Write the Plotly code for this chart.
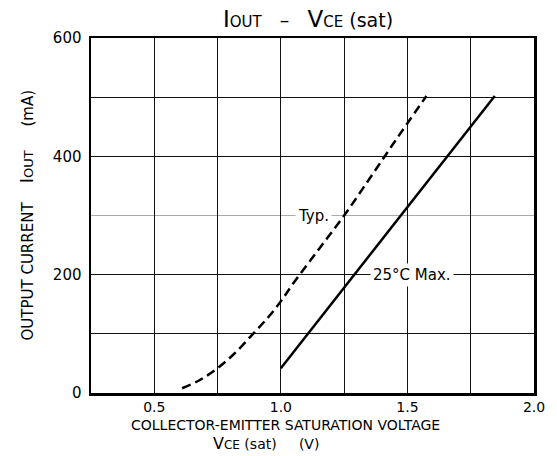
import plotly.graph_objects as go

# Data
typ_v = [0.61, 0.68, 0.75, 0.82, 0.89, 0.95, 1.0, 1.05, 1.15, 1.25, 1.35, 1.45, 1.575]
typ_i = [8, 22, 42, 68, 100, 128, 155, 186, 243, 300, 362, 425, 502]
max_v = [1.0, 1.845]
max_i = [42, 502]

x_ticks = [0.25, 0.5, 0.75, 1.0, 1.25, 1.5, 1.75, 2.0]
x_text = ["", "0.5", "", "1.0", "", "1.5", "", "2.0"]
y_ticks = [0, 100, 200, 400, 500, 600]
y_text = ["0", "", "200", "400", "", "600"]
y_minor = [300]

FONT = "DejaVu Sans"

fig = go.Figure()
fig.add_trace(go.Scatter(x=typ_v, y=typ_i, mode="lines", line=dict(color="black", width=2.5, dash="9px,5px"),
                         line_shape="spline", hoverinfo="skip", showlegend=False))
fig.add_trace(go.Scatter(x=max_v, y=max_i, mode="lines", line=dict(color="black", width=2.5),
                         hoverinfo="skip", showlegend=False))

fig.add_annotation(x=1.13, y=300, text="Typ.", showarrow=False, bgcolor="white",
                   font=dict(family=FONT, size=15, color="black"), borderpad=2)
fig.add_annotation(x=1.52, y=200, text="25°C Max.", showarrow=False, bgcolor="white",
                   font=dict(family=FONT, size=15, color="black"), borderpad=2)

# title
fig.add_annotation(xref="paper", yref="paper", x=0.49, y=1.0, yshift=19, yanchor="middle", showarrow=False,
                   text="<span style='font-size:23px'>I</span><span style='font-size:15px'>OUT</span>"
                        "   \u2013   <span style='font-size:23px'>V</span><span style='font-size:15px'>CE</span> (sat)",
                   font=dict(family=FONT, size=19, color="black"))
# x title
fig.add_annotation(xref="paper", yref="paper", x=0.44, y=0, yshift=-32, yanchor="middle", showarrow=False,
                   text="COLLECTOR-EMITTER SATURATION VOLTAGE",
                   font=dict(family=FONT, size=14, color="black"))
fig.add_annotation(xref="paper", yref="paper", x=0.395, y=0, yshift=-50, yanchor="middle", showarrow=False,
                   text="<span style='font-size:16px'>V</span><span style='font-size:12px'>CE</span> (sat)     (V)",
                   font=dict(family=FONT, size=14, color="black"))
# y title
fig.add_annotation(xref="paper", yref="paper", x=0, y=0.5, xshift=-65, xanchor="center", yanchor="middle",
                   showarrow=False, textangle=-90,
                   text="OUTPUT CURRENT    <span style='font-size:18px'>I</span><span style='font-size:13px'>OUT</span>     (mA)",
                   font=dict(family=FONT, size=15, color="black"))

fig.update_xaxes(range=[0.25, 2.0], tickmode="array", tickvals=x_ticks, ticktext=x_text,
                 showgrid=True, gridcolor="#111", gridwidth=1, showline=True, linecolor="black",
                 linewidth=2.5, mirror=True, ticks="", zeroline=False, ticklabelstandoff=0,
                 tickfont=dict(family=FONT, size=14, color="black"))
fig.update_yaxes(range=[0, 600], tickmode="array", tickvals=y_ticks, ticktext=y_text,
                 showgrid=True, gridcolor="#111", gridwidth=1, showline=True, linecolor="black",
                 linewidth=2.5, mirror=True, ticks="", zeroline=False, ticklabelstandoff=4,
                 minor=dict(tickmode="array", tickvals=y_minor, showgrid=True, gridcolor="#aaa", gridwidth=1.5),
                 tickfont=dict(family=FONT, size=15, color="black"))

fig.update_layout(width=557, height=456, margin=dict(l=91, r=15, t=38, b=63),
                  plot_bgcolor="white", paper_bgcolor="white", showlegend=False,
                  font=dict(family=FONT, color="black"))

fig.write_html("out.html", config={"displayModeBar": False, "staticPlot": True},
               post_script="document.body.style.margin='0px';")
